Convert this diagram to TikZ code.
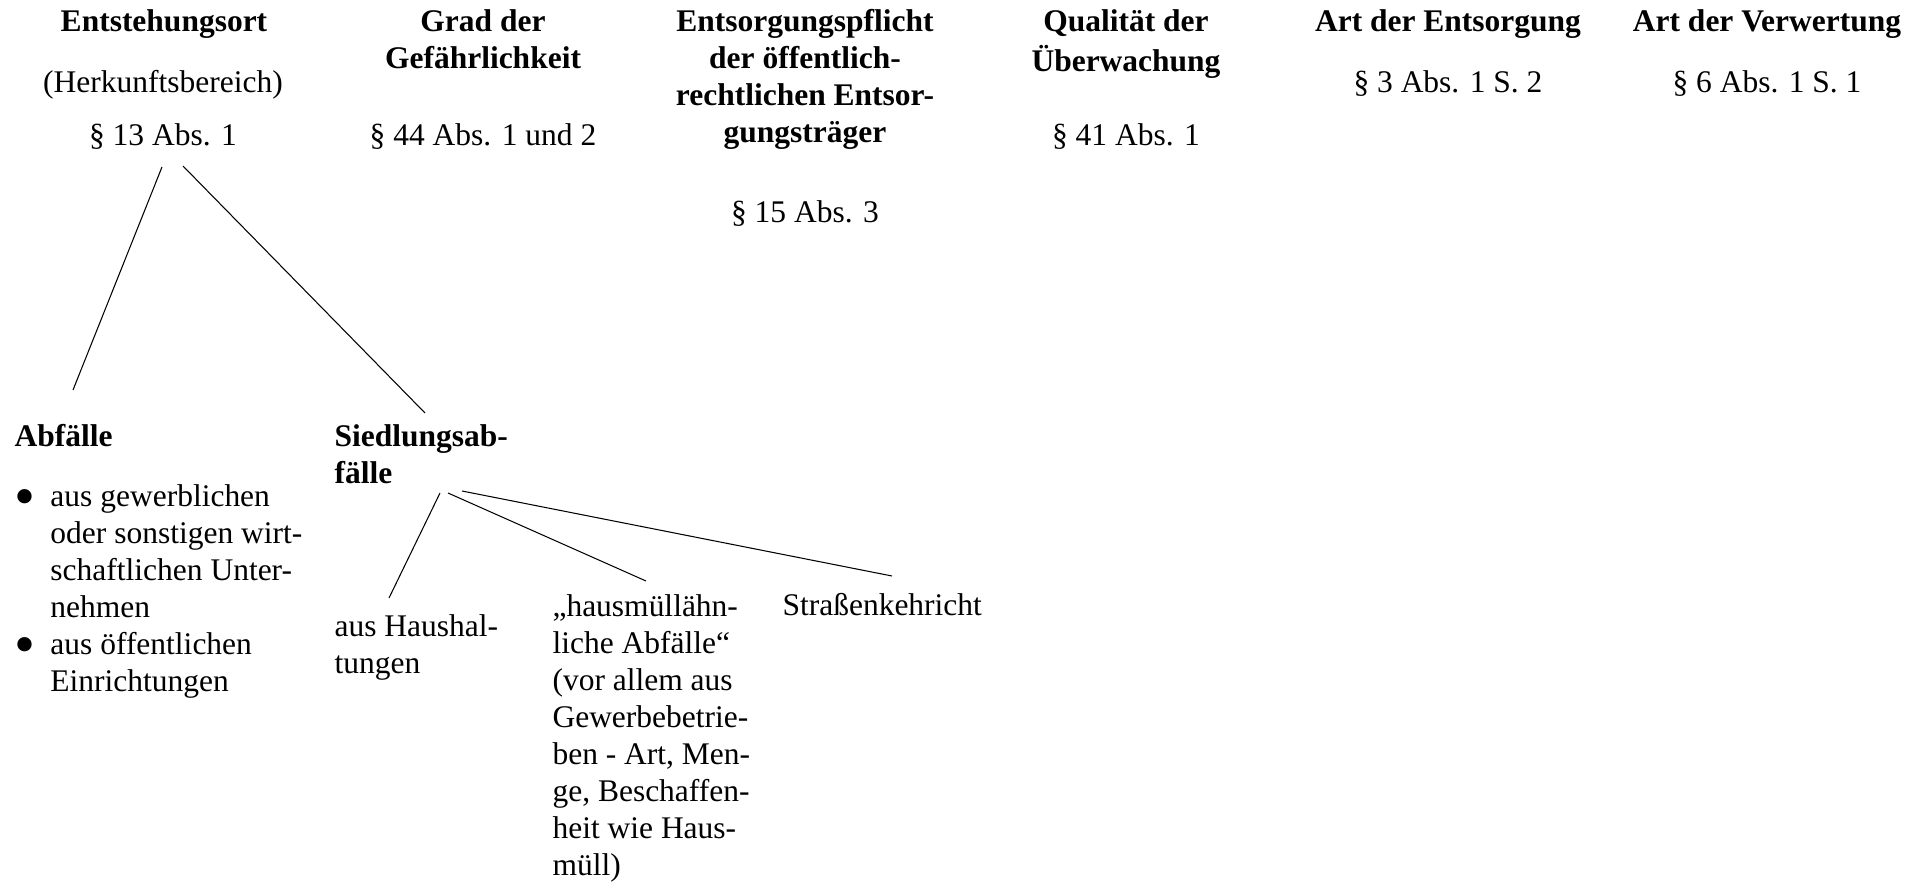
\documentclass[tikz,border=0pt]{standalone}
\usepackage{fontspec}
\setmainfont{Liberation Serif}
\usepackage{graphicx}
\usepackage{tikz}
\newcommand{\bitem}{\makebox[13.7pt][l]{\raisebox{-3.8pt}{\scalebox{1.9}{\textbullet}}}}
\newcommand{\bgap}{\hspace*{13.7pt}}

\begin{document}
\begin{tikzpicture}[x=0.381pt, y=-0.381pt,
    txt/.style={inner sep=0pt, font=\fontsize{12}{14.1}\selectfont},
    head/.style={txt, anchor=north, align=center, font=\fontsize{12}{14.1}\selectfont\bfseries},
    ref/.style={txt, anchor=north, align=center},
    leaf/.style={txt, anchor=north west, align=left},
    bleaf/.style={leaf, font=\fontsize{12}{14.1}\selectfont\bfseries},
    branch/.style={thin}]
    \useasboundingbox (0,0) rectangle (1924,885);

    \node[head] (h1) at (164,5) {\strut Entstehungsort};
    \node[head] (h2) at (483,5) {\strut Grad der\\Gefährlichkeit};
    \node[head] (h3) at (805,5) {\strut Entsorgungspflicht\\der öffentlich-\\rechtlichen Entsor-\\gungsträger};
    \node[head] (h4) at (1126,5) {\strut Qualität der\\Überwachung};
    \node[head] (h5) at (1448,5) {\strut Art der Entsorgung};
    \node[head] (h6) at (1767,5) {\strut Art der Verwertung};

    \node[ref] (s1) at (163,66) {\strut (Herkunftsbereich)};
    \node[ref] (p1) at (163,119) {\strut § 13 Abs. 1};
    \node[ref] (p2) at (483,119) {\strut § 44 Abs. 1 und 2};
    \node[ref] (p3) at (805,196) {\strut § 15 Abs. 3};
    \node[ref] (p4) at (1126,119) {\strut § 41 Abs. 1};
    \node[ref] (p5) at (1448,66) {\strut § 3 Abs. 1 S. 2};
    \node[ref] (p6) at (1767,66) {\strut § 6 Abs. 1 S. 1};

    \node[bleaf] (abf) at (14,420) {\strut Abfälle};
    \node[leaf] (lst) at (14,480) {\strut\bitem aus gewerblichen\\\bgap oder sonstigen wirt-\\\bgap schaftlichen Unter-\\\bgap nehmen\\\bitem aus öffentlichen\\\bgap Einrichtungen};
    \node[bleaf] (sd) at (334,420) {\strut Siedlungsab-\\fälle};
    \node[leaf] (hh) at (334,610) {\strut aus Haushal-\\tungen};
    \node[leaf] (hm) at (552,590) {\strut „hausmüllähn-\\liche Abfälle“\\(vor allem aus\\Gewerbebetrie-\\ben - Art, Men-\\ge, Beschaffen-\\heit wie Haus-\\müll)};
    \node[leaf] (sk) at (782,589) {\strut Straßenkehricht};

    \draw[branch] ([shift={(-1,48)}]p1.north) -- ([shift={(59,-30)}]abf.north west);
    \draw[branch] ([shift={(20,47)}]p1.north) -- ([shift={(91,-7)}]sd.north west);
    \draw[branch] ([shift={(106,73)}]sd.north west) -- ([shift={(55,-12)}]hh.north west);
    \draw[branch] ([shift={(114,73)}]sd.north west) -- ([shift={(94,-9)}]hm.north west);
    \draw[branch] ([shift={(128,71)}]sd.north west) -- ([shift={(110,-13)}]sk.north west);
\end{tikzpicture}
\end{document}
